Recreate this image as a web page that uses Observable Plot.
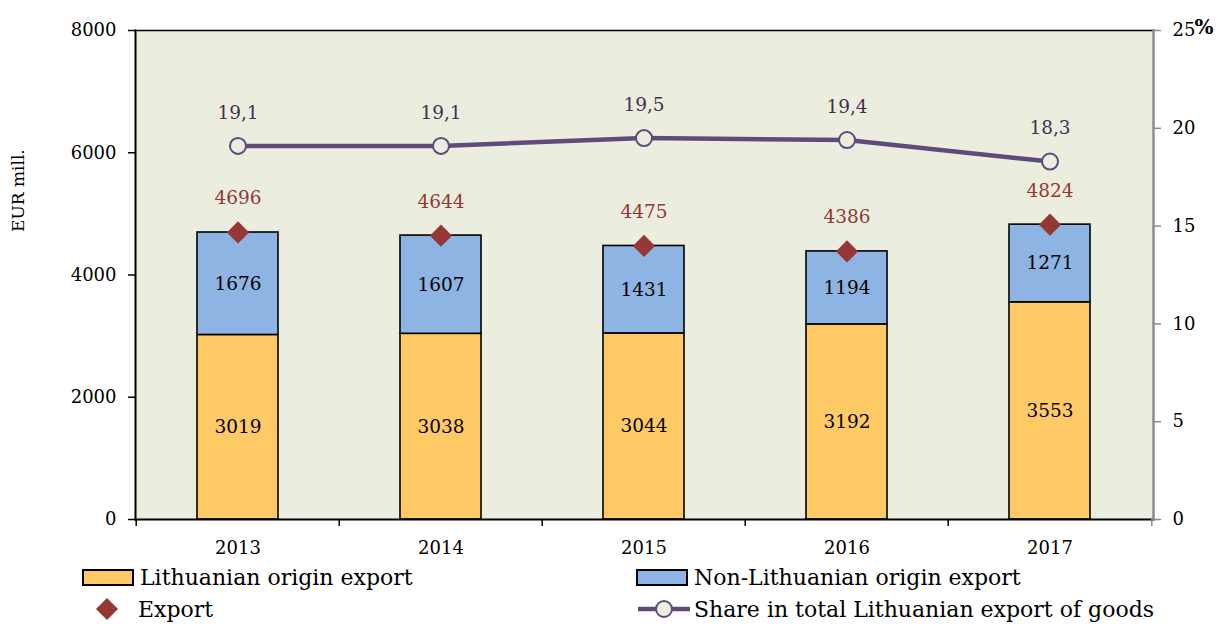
<!DOCTYPE html>
<html>
<head>
<meta charset="utf-8">
<script src="https://cdn.jsdelivr.net/npm/d3@7"></script>
<script src="https://cdn.jsdelivr.net/npm/@observablehq/plot@0.6"></script>
<style>
  html, body { margin: 0; padding: 0; background: #fff; }
  body { width: 1217px; height: 624px; overflow: hidden; position: relative; font-family: "DejaVu Serif", serif; }
  #legend { position: absolute; left: 0; top: 562px; width: 1217px; height: 62px; }
  .item { position: absolute; display: flex; align-items: center; font-size: 22px; color: #000; white-space: nowrap; }
  .sw { box-sizing: border-box; width: 52px; height: 17px; border: 2px solid #000; margin-right: 6px; }
</style>
</head>
<body>
<div id="chart"></div>
<div id="legend"></div>
<script>
const years = ["2013", "2014", "2015", "2016", "2017"];
const lithuanian = [3019, 3038, 3044, 3192, 3553];
const nonLithuanian = [1676, 1607, 1431, 1194, 1271];
const exportTotal = [4696, 4644, 4475, 4386, 4824];
const share = [19.1, 19.1, 19.5, 19.4, 18.3];
const leftTicks = [0, 2000, 4000, 6000, 8000];
const rightTicks = [0, 5, 10, 15, 20, 25];
const seriesNames = ["Lithuanian origin export", "Non-Lithuanian origin export", "Export", "Share in total Lithuanian export of goods"];

const colors = {
  bg: "#EBEEDE",
  lith: "#FFCA66",
  non: "#8DB4E2",
  exp: "#953735",
  line: "#604A7B",
  shareText: "#3F3151"
};

const leftMax = 8000, rightMax = 25;
const k = leftMax / rightMax; // maps right-axis percent onto the left scale

const data = years.map((y, i) => ({
  year: y, lith: lithuanian[i], non: nonLithuanian[i], exp: exportTotal[i], share: share[i]
}));

const W = 1217, H = 562, mL = 135, mR = 64, mT = 30, mB = 43;
const halfStep = (W - mL - mR) / years.length / 2;
const font = "DejaVu Serif, serif";

const chart = Plot.plot({
  width: W, height: H,
  marginLeft: mL, marginRight: mR, marginTop: mT, marginBottom: mB,
  style: { fontFamily: font, fontSize: "18px", background: "#fff", overflow: "visible" },
  x: { domain: years, paddingInner: 0.6, paddingOuter: 0.3, axis: null },
  y: { domain: [0, leftMax], axis: null },
  marks: [
    Plot.frame({ fill: colors.bg, stroke: null }),
    // bars
    Plot.barY(data, { x: "year", y1: 0, y2: "lith", fill: colors.lith, stroke: "#000", strokeWidth: 1.6 }),
    Plot.barY(data, { x: "year", y1: "lith", y2: d => d.lith + d.non, fill: colors.non, stroke: "#000", strokeWidth: 1.6 }),
    Plot.text(data, { x: "year", y: d => d.lith / 2, text: d => String(d.lith), fontSize: 18.5, fill: "#000" }),
    Plot.text(data, { x: "year", y: d => d.lith + d.non / 2, text: d => String(d.non), fontSize: 18.5, fill: "#000" }),
    // export diamonds
    Plot.dot(data, { x: "year", y: "exp", symbol: "diamond2", r: 10, fill: colors.exp, stroke: null }),
    Plot.text(data, { x: "year", y: "exp", dy: -34, text: d => String(d.exp), fontSize: 18.5, fill: colors.exp }),
    // share line (right axis, percent)
    Plot.line(data, { x: "year", y: d => d.share * k, stroke: colors.line, strokeWidth: 4.5 }),
    Plot.dot(data, { x: "year", y: d => d.share * k, r: 8, fill: colors.bg, stroke: colors.line, strokeWidth: 2 }),
    Plot.text(data, { x: "year", y: d => d.share * k, dy: -33, text: d => d.share.toFixed(1).replace(".", ","), fontSize: 18.5, fill: colors.shareText }),
    // frame borders
    Plot.frame({ anchor: "top", stroke: "#000", strokeWidth: 1.5 }),
    Plot.frame({ anchor: "left", stroke: "#000", strokeWidth: 2 }),
    Plot.frame({ anchor: "bottom", stroke: "#000", strokeWidth: 2 }),
    Plot.frame({ anchor: "right", stroke: "#8c8c8c", strokeWidth: 2.5 }),
    // left axis
    Plot.axisY({ anchor: "left", ticks: leftTicks, tickSize: 7, tickPadding: 12, tickFormat: d3.format("d"), label: null, stroke: "#000", strokeWidth: 1.5, fill: "#000", fontSize: 18 }),
    // right axis in percent
    Plot.axisY({ anchor: "right", ticks: rightTicks.map(v => v * k), tickSize: 7, tickPadding: 12, tickFormat: v => String(Math.round(v / k)), label: null, stroke: "#8c8c8c", strokeWidth: 1.5, fill: "#000", fontSize: 18 }),
    Plot.text(["%"], { frameAnchor: "top-right", dx: 41, dy: -11, textAnchor: "start", fontWeight: "bold", fontSize: 20, fill: "#000" }),
    // x axis labels and boundary ticks
    Plot.axisX({ anchor: "bottom", ticks: years, tickSize: 0, tickPadding: 22, label: null, fill: "#000", fontSize: 18 }),
    Plot.axisX({ anchor: "bottom", ticks: years, tickSize: 7, dx: -halfStep, tickFormat: () => "", label: null, stroke: "#000", strokeWidth: 1.5 }),
    Plot.axisX({ anchor: "bottom", ticks: [years[years.length - 1]], tickSize: 7, dx: halfStep, tickFormat: () => "", label: null, stroke: "#8c8c8c", strokeWidth: 1.5 }),
    // y axis title
    Plot.text(["EUR mill."], { frameAnchor: "left", dx: -117, dy: -43, rotate: -90, fontSize: 17, fill: "#000" })
  ]
});
document.getElementById("chart").appendChild(chart);

// legend
const legend = document.getElementById("legend");
function addItem(left, top, markerHTML, label) {
  const el = document.createElement("div");
  el.className = "item";
  el.style.left = left + "px";
  el.style.top = top + "px";
  el.innerHTML = markerHTML + "<span>" + label + "</span>";
  legend.appendChild(el);
}
addItem(82, 3, `<div class="sw" style="background:${colors.lith}"></div>`, seriesNames[0]);
addItem(636, 3, `<div class="sw" style="background:${colors.non}"></div>`, seriesNames[1]);
addItem(96, 34, `<svg width="24" height="26" style="margin-right:18px"><path d="M11,2 L22,13 L11,24 L0,13 Z" fill="${colors.exp}"/></svg>`, seriesNames[2]);
addItem(636, 34, `<svg width="56" height="26" style="margin-right:2px"><line x1="2" y1="13" x2="54" y2="13" stroke="${colors.line}" stroke-width="4.5"/><circle cx="28" cy="13" r="8" fill="${colors.bg}" stroke="${colors.line}" stroke-width="2"/></svg>`, seriesNames[3]);
</script>
</body>
</html>
